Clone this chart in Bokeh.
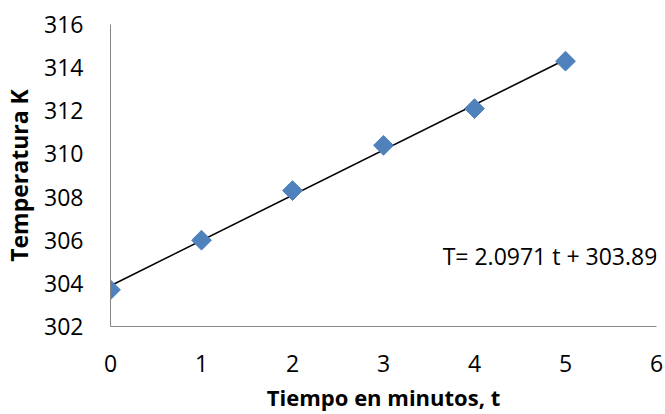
import numpy as np
from bokeh.plotting import figure
from bokeh.models import Range1d, FixedTicker, Label
from bokeh.embed import file_html
from bokeh.resources import INLINE

# Data
tiempo = [0, 1, 2, 3, 4, 5]
temperatura = [303.7, 306.0, 308.3, 310.4, 312.1, 314.3]
x_ticks = [0, 1, 2, 3, 4, 5, 6]
y_ticks = [302, 304, 306, 308, 310, 312, 314, 316]
equation = "T= 2.0971 t + 303.89"
eq_pos = (3.65, 305.29)
x_title = "Tiempo en minutos, t"
y_title = "Temperatura K"

slope, intercept = np.polyfit(tiempo, temperatura, 1)
fit_x = [tiempo[0], tiempo[-1]]
fit_y = [slope * v + intercept for v in fit_x]

FONT = "Open Sans"

p = figure(width=665, height=414, output_backend="svg", toolbar_location=None,
           x_range=Range1d(0, 6), y_range=Range1d(302, 316),
           min_border_left=110, min_border_right=9, min_border_top=24,
           min_border_bottom=88)
p.outline_line_color = None
p.grid.grid_line_color = None
p.background_fill_color = "white"
p.border_fill_color = "white"

p.line(fit_x, fit_y, line_color="black", line_width=1.5)
p.scatter(tiempo, temperatura, marker="square", size=14, angle=np.pi / 4,
          fill_color="#4F81BD", line_color="#4F81BD")

for ax in (p.xaxis[0], p.yaxis[0]):
    ax.axis_line_color = "#868686"
    ax.axis_line_width = 1
    ax.major_tick_line_color = None
    ax.minor_tick_line_color = None
    ax.major_tick_out = 0
    ax.major_tick_in = 0
    ax.major_label_text_font = FONT
    ax.major_label_text_font_size = "23px"
    ax.major_label_text_color = "black"
    ax.axis_label_text_font = FONT
    ax.axis_label_text_font_size = "23px"
    ax.axis_label_text_font_style = "bold"
    ax.axis_label_text_color = "black"

p.xaxis.ticker = FixedTicker(ticks=x_ticks)
p.yaxis.ticker = FixedTicker(ticks=y_ticks)
p.xaxis.axis_label = x_title
p.yaxis.axis_label = y_title
p.xaxis.axis_label_text_font_size = "22px"
p.xaxis.major_label_text_line_height = 1.0
p.xaxis.axis_label_text_line_height = 0.9
p.xaxis.major_label_standoff = 28
p.yaxis.major_label_standoff = 27
p.xaxis.axis_label_standoff = 7
p.yaxis.axis_label_standoff = 6

p.add_layout(Label(x=eq_pos[0], y=eq_pos[1], text=equation,
                   text_font=FONT, text_font_size="23px",
                   text_baseline="alphabetic", text_align="left",
                   text_color="black"))

open("out.html", "w").write(file_html(p, INLINE))
